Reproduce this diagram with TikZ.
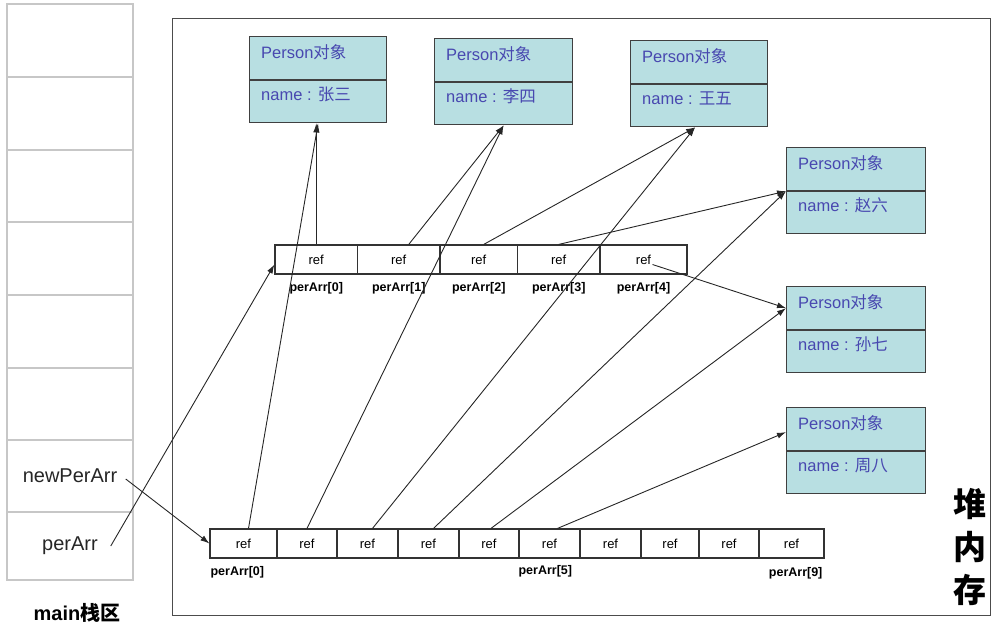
\documentclass[tikz,border=0pt]{standalone}
\usepackage{fontspec}
\setmainfont{Liberation Sans}
\newfontfamily\cjk{Noto Sans CJK SC}
\usetikzlibrary{arrows.meta,calc}
\definecolor{pfill}{HTML}{B8DFE2}
\definecolor{ptxt}{HTML}{4848B0}
\tikzset{
 comp/.style={draw=black!75, line width=1.2pt, fill=pfill, inner sep=0pt, anchor=north west},
 ptext/.style={text=ptxt, font=\fontsize{16.5}{18}\selectfont, anchor=west, inner sep=0pt},
 cell/.style={draw=black!80, line width=1.2pt, minimum height=29pt, inner sep=0pt, font=\fontsize{13}{14}\selectfont},
 idx/.style={font=\bfseries\fontsize{12.5}{14}\selectfont, inner sep=0pt},
 stk/.style={draw=black!22, line width=1.5pt, minimum width=126pt, inner sep=0pt, text=black!85, font=\fontsize{20}{22}\selectfont},
 refarrow/.style={-{Latex[length=9pt,width=6pt]}, line width=0.9pt, black!85},
}
\newcommand\personbox[5]{%
 \node[comp, minimum width=#4, minimum height=43] (#1t) at (#2,#3) {};
 \node[comp, minimum width=#4, minimum height=42] (#1n) at (#1t.south west) {};
 \node[ptext] at ($(#1t.north west)+(12,16)$) {Person{\cjk 对象}};
 \node[ptext] at ($(#1n.north west)+(12,14)$) {name : {\cjk #5}};
}
\begin{document}
\begin{tikzpicture}[x=1pt,y=-1pt]
\useasboundingbox (0,0) rectangle (996,625);
% stack
\foreach \i/\t/\b in {1/4/77,2/77/150,3/150/222,4/222/295,5/295/368,6/368/440}
  \node[stk, minimum height=\b-\t] (s\i) at (70,{(\t+\b)/2}) {};
\node[stk, minimum height=72] (s7) at (70,476) {newPerArr};
\node[stk, minimum height=68] (s8) at (70,546) {perArr};
\node[font=\bfseries\fontsize{20}{22}\selectfont] (mainlbl) at (77,613) {main{\cjk 栈区}};
% heap
\node[draw=black!70, line width=1.3pt, minimum width=818, minimum height=597, anchor=north west, inner sep=0pt] (heap) at (172,18) {};
\node[font=\cjk\bfseries\fontsize{33}{43}\selectfont, align=center, inner sep=0pt] (heaplbl) at (970,547) {堆\\内\\存};
% person objects
\personbox{pa}{249}{36}{137}{张三}
\personbox{pb}{434}{38}{138}{李四}
\personbox{pc}{630}{40}{137}{王五}
\personbox{pd}{786}{147}{139}{赵六}
\personbox{pe}{786}{286}{139}{孙七}
\personbox{pf}{786}{407}{139}{周八}
% top array
\foreach \i/\a/\b in {0/275/357.5,1/357.5/440,2/440/517.5,3/517.5/600,4/600/687} {
  \node[cell, minimum width=\b-\a] (ta\i) at ({(\a+\b)/2},259.5) {ref};
  \node[idx] (tl\i) at ($(ta\i.south)+(0,14)$) {perArr[\i]};
}
% bottom array
\foreach \i/\a/\b in {0/210/277,1/277/337,2/337/398,3/398/459,4/459/519,5/519/580,6/580/641,7/641/699,8/699/759,9/759/824}
  \node[cell, minimum width=\b-\a] (ba\i) at ({(\a+\b)/2},543.5) {ref};
\node[idx, anchor=west] (bl0) at ($(ba0.south west)+(1,14)$) {perArr[0]};
\node[idx, anchor=west] (bl5) at ($(ba5.south west)+(0,13)$) {perArr[5]};
\node[idx, anchor=east] (bl9) at ($(ba9.south east)+(-2,15)$) {perArr[9]};
% references from top array
\draw[refarrow] (ta0.north) -- (ta0.north |- pan.south);
\draw[refarrow] ($(ta1.north)+(10,0)$) -- (pbn.south);
\draw[refarrow] ($(ta2.north)+(5,0)$) -- ($(pcn.south)+(-4,0)$);
\draw[refarrow] (ta3.north) -- (pdn.north west);
\draw[refarrow] ($(ta4.center)+(9,5)$) -- (pet.west);
% references from bottom array
\draw[refarrow] ($(ba0.north)+(5,0)$) -- (pan.south);
\draw[refarrow] (ba1.north) -- (pbn.south);
\draw[refarrow] ($(ba2.north)+(5,0)$) -- ($(pcn.south)+(-4,0)$);
\draw[refarrow] ($(ba3.north)+(5,0)$) -- (pdn.north west);
\draw[refarrow] ($(ba4.north)+(2,0)$) -- (pet.west);
\draw[refarrow] ($(ba5.north)+(8,0)$) -- ($(pft.west)+(0,3)$);
% stack variables
\draw[refarrow] ($(s7.east)+(-8,3)$) -- (ba0.west);
\draw[refarrow] ($(s8.east)+(-23,0)$) -- ($(ta0.west)+(0,5)$);
\end{tikzpicture}
\end{document}
